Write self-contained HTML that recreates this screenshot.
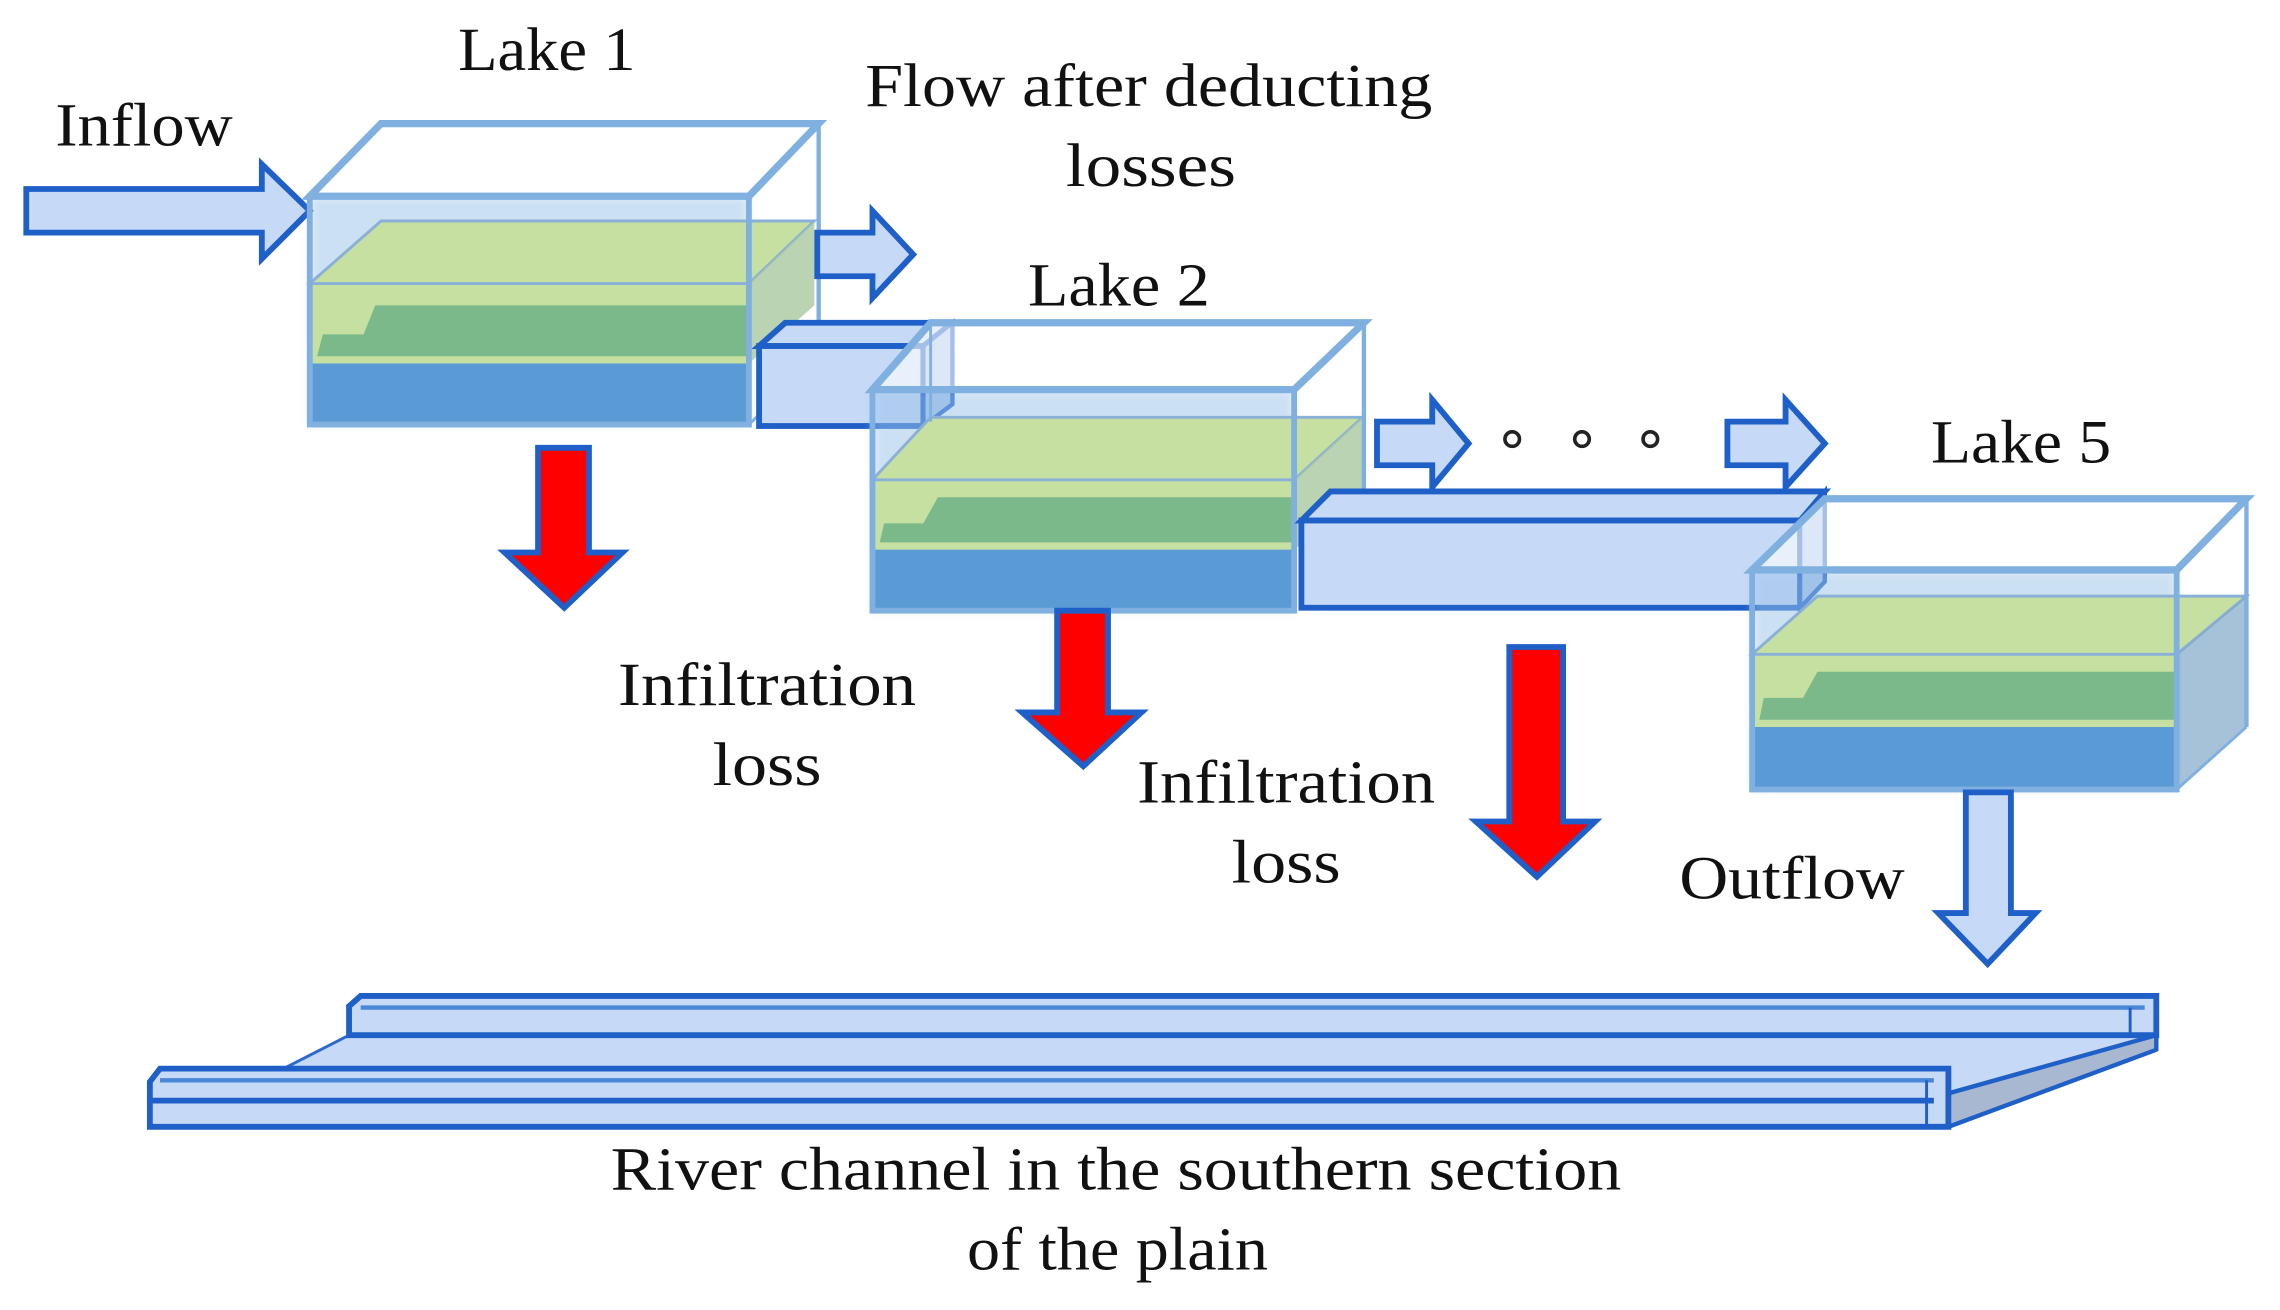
<!DOCTYPE html>
<html><head><meta charset="utf-8"><style>
html,body{margin:0;padding:0;background:#fff;}
svg{display:block;}
text{font-family:"Liberation Serif",serif;fill:#111;}
</style></head><body>
<svg width="2280" height="1310" viewBox="0 0 1568 901" xmlns="http://www.w3.org/2000/svg">
<defs>
<filter id="glow" x="-10%" y="-10%" width="120%" height="120%"><feGaussianBlur stdDeviation="3"/></filter>
</defs>

<text x="38" y="100" font-size="42" textLength="122" lengthAdjust="spacingAndGlyphs">Inflow</text>
<text x="315" y="48" font-size="42" textLength="122" lengthAdjust="spacingAndGlyphs">Lake 1</text>
<text x="595" y="73" font-size="42" textLength="390" lengthAdjust="spacingAndGlyphs">Flow after deducting</text>
<text x="733" y="128" font-size="42" textLength="117" lengthAdjust="spacingAndGlyphs">losses</text>
<text x="707" y="210" font-size="42" textLength="125" lengthAdjust="spacingAndGlyphs">Lake 2</text>
<text x="1328" y="318" font-size="42" textLength="124" lengthAdjust="spacingAndGlyphs">Lake 5</text>
<text x="425" y="485" font-size="42" textLength="205" lengthAdjust="spacingAndGlyphs">Infiltration</text>
<text x="490" y="540" font-size="42" textLength="75" lengthAdjust="spacingAndGlyphs">loss</text>
<text x="782" y="552" font-size="42" textLength="205" lengthAdjust="spacingAndGlyphs">Infiltration</text>
<text x="847" y="607" font-size="42" textLength="75" lengthAdjust="spacingAndGlyphs">loss</text>
<text x="1155" y="618" font-size="42" textLength="155" lengthAdjust="spacingAndGlyphs">Outflow</text>
<text x="420" y="818" font-size="42" textLength="695" lengthAdjust="spacingAndGlyphs">River channel in the southern section</text>
<text x="665" y="873" font-size="42" textLength="207" lengthAdjust="spacingAndGlyphs">of the plain</text>

<polygon points="18,130 180,130 180,113 213,145 180,178 180,160 18,160" fill="#c6d9f7" stroke="#1f5fc8" stroke-width="4"/>

<g>
 <rect x="213" y="135" width="302" height="157" fill="#9bc3e8" filter="url(#glow)" opacity="0.5"/>
 <rect x="213" y="250" width="302" height="42" fill="#5b9bd5"/>
 <rect x="213" y="195" width="302" height="55" fill="#c5e0a0"/>
 <polygon points="218,245 222,230 250,230 258,210 515,210 515,245" fill="#7bb88a"/>
 <polygon points="213,195 262,152 560,152 515,195" fill="#c5e0a0" stroke="#8ab0d8" stroke-width="2"/>
 <polygon points="515,195 560,152 560,210 515,250" fill="#a9c9a0" opacity="0.8"/>
 <polygon points="213,135 262,85 563,85 515,135" fill="#fff" stroke="#7fb0e0" stroke-width="5"/>
 <rect x="213" y="135" width="302" height="157" fill="none" stroke="#7fb0e0" stroke-width="4"/>
 <line x1="563" y1="85" x2="563" y2="245" stroke="#7fb0e0" stroke-width="3"/>
 <line x1="515" y1="292" x2="563" y2="245" stroke="#7fb0e0" stroke-width="2"/>
</g>

<polygon points="562,160 600,160 600,145 628,175 600,205 600,190 562,190" fill="#c6d9f7" stroke="#1f5fc8" stroke-width="4"/>

<polygon points="522,238 540,222 655,222 635,238" fill="#c6d9f7" stroke="#1f5fc8" stroke-width="4"/>
<rect x="522" y="238" width="113" height="55" fill="#c6d9f7" stroke="#1f5fc8" stroke-width="4"/>
<polygon points="635,238 655,222 655,278 635,293" fill="#a8c3ea" stroke="#1f5fc8" stroke-width="3"/>

<g>
 <rect x="600" y="268" width="290" height="152" fill="#9bc3e8" filter="url(#glow)" opacity="0.5"/>
 <rect x="600" y="378" width="290" height="42" fill="#5b9bd5"/>
 <rect x="600" y="330" width="290" height="48" fill="#c5e0a0"/>
 <polygon points="605,373 608,360 635,360 645,342 890,342 890,373" fill="#7bb88a"/>
 <polygon points="600,330 640,287 937,287 890,330" fill="#c5e0a0" stroke="#8ab0d8" stroke-width="2"/>
 <polygon points="890,330 937,287 937,340 890,378" fill="#a9c9a0" opacity="0.8"/>
 <polygon points="600,268 640,222 938,222 890,268" fill="#fff" fill-opacity="0.6" stroke="#7fb0e0" stroke-width="5"/>
 <rect x="600" y="268" width="290" height="152" fill="none" stroke="#7fb0e0" stroke-width="4"/>
 <line x1="938" y1="222" x2="938" y2="378" stroke="#7fb0e0" stroke-width="3"/>
 <line x1="640" y1="222" x2="640" y2="290" stroke="#7fb0e0" stroke-width="2"/>
</g>

<polygon points="947,290 985,290 985,275 1010,305 985,335 985,320 947,320" fill="#c6d9f7" stroke="#1f5fc8" stroke-width="4"/>
<circle cx="1040" cy="302" r="5" fill="none" stroke="#222" stroke-width="2.5"/>
<circle cx="1088" cy="302" r="5" fill="none" stroke="#222" stroke-width="2.5"/>
<circle cx="1135" cy="302" r="5" fill="none" stroke="#222" stroke-width="2.5"/>
<polygon points="1188,290 1228,290 1228,275 1255,305 1228,335 1228,320 1188,320" fill="#c6d9f7" stroke="#1f5fc8" stroke-width="4"/>

<polygon points="895,358 915,338 1255,338 1238,358" fill="#c6d9f7" stroke="#1f5fc8" stroke-width="4"/>
<rect x="895" y="358" width="343" height="60" fill="#c6d9f7" stroke="#1f5fc8" stroke-width="4"/>
<polygon points="1238,358 1255,338 1255,400 1238,418" fill="#a8c3ea" stroke="#1f5fc8" stroke-width="3"/>

<g>
 <rect x="1205" y="392" width="292" height="151" fill="#9bc3e8" filter="url(#glow)" opacity="0.5"/>
 <rect x="1205" y="500" width="292" height="43" fill="#5b9bd5"/>
 <rect x="1205" y="450" width="292" height="50" fill="#c5e0a0"/>
 <polygon points="1210,495 1213,480 1240,480 1250,462 1497,462 1497,495" fill="#7bb88a"/>
 <polygon points="1205,450 1250,410 1545,410 1497,450" fill="#c5e0a0" stroke="#8ab0d8" stroke-width="2"/>
 <polygon points="1497,450 1545,410 1545,500 1497,543" fill="#7fa8c8" opacity="0.7"/>
 <polygon points="1205,392 1255,343 1545,343 1497,392" fill="#fff" fill-opacity="0.6" stroke="#7fb0e0" stroke-width="5"/>
 <rect x="1205" y="392" width="292" height="151" fill="none" stroke="#7fb0e0" stroke-width="4"/>
 <line x1="1545" y1="343" x2="1545" y2="500" stroke="#7fb0e0" stroke-width="3"/>
 <line x1="1497" y1="543" x2="1545" y2="500" stroke="#7fb0e0" stroke-width="2"/>
</g>

<polygon points="370,308 405,308 405,380 428,380 388,418 347,380 370,380" fill="#ff0000" stroke="#1f5fc8" stroke-width="4"/>
<polygon points="727,420 762,420 762,490 785,490 745,527 703,490 727,490" fill="#ff0000" stroke="#1f5fc8" stroke-width="4"/>
<polygon points="1038,445 1075,445 1075,565 1097,565 1057,603 1015,565 1038,565" fill="#ff0000" stroke="#1f5fc8" stroke-width="4"/>

<polygon points="1352,545 1383,545 1383,628 1400,628 1367,663 1333,628 1352,628" fill="#c6d9f7" stroke="#1f5fc8" stroke-width="4"/>

<!-- river channel -->
<polygon points="193,736 240,712 1483,712 1340,752 1340,736" fill="#c6d9f7" stroke="#2a6ad0" stroke-width="2"/>
<polygon points="1340,752 1483,712 1483,722 1340,775" fill="#a8b8d0" stroke="#1f5fc8" stroke-width="3" stroke-linejoin="round"/>
<polygon points="240,692 248,685 1483,685 1483,712 240,712" fill="#c6d9f7" stroke="#1f5fc8" stroke-width="4"/>
<line x1="248" y1="693" x2="1475" y2="693" stroke="#4a86d8" stroke-width="3"/>
<line x1="1465" y1="693" x2="1465" y2="712" stroke="#1f5fc8" stroke-width="2"/>
<polygon points="103,744 110,735 1340,735 1340,775 103,775" fill="#c6d9f7" stroke="#1f5fc8" stroke-width="4"/>
<line x1="110" y1="743" x2="1330" y2="743" stroke="#4a86d8" stroke-width="3"/>
<line x1="103" y1="757" x2="1330" y2="757" stroke="#1f5fc8" stroke-width="4"/>
<line x1="1325" y1="743" x2="1325" y2="775" stroke="#1f5fc8" stroke-width="2"/>
</svg>
</body></html>
